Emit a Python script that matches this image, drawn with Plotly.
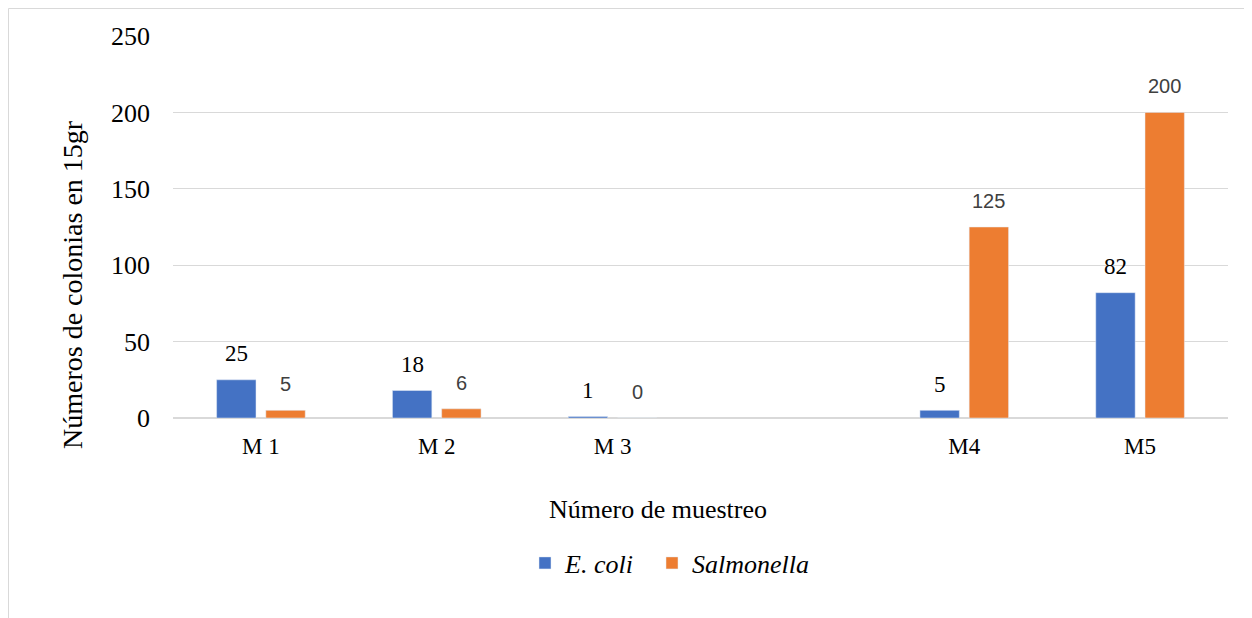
import plotly.graph_objects as go

categories = ["M 1", "M 2", "M 3", " ", "M4", "M5"]
ecoli = [25, 18, 1, None, 5, 82]
salmonella = [5, 6, 0, None, 125, 200]
series_names = ["E. coli", "Salmonella"]
y_ticks = [0, 50, 100, 150, 200, 250]
x_title = "Número de muestreo"
y_title = "Números de colonias en 15gr"

BLUE = "#4472C4"
ORANGE = "#ED7D31"
SERIF = "Liberation Serif"
SANS = "Liberation Sans, Arial, sans-serif"

fig = go.Figure()
fig.add_trace(go.Bar(x=categories, y=ecoli, name="<i>" + series_names[0] + "</i>",
                     marker_color=BLUE, legend="legend"))
fig.add_trace(go.Bar(x=categories, y=salmonella, name="<i>" + series_names[1] + "</i>",
                     marker_color=ORANGE, legend="legend2"))

# figure is offset by the 8px page margin
W = 1244; H = 610; L = 165; R = 24; T = 28; B = 200
pw = W - L - R
ph = H - T - B
slot = pw / len(categories)
shift = slot * (1 - 0.44) / 4
for vals, dx, font in [(ecoli, -shift, dict(family=SERIF, size=23, color="#000000")),
                       (salmonella, shift, dict(family=SANS, size=20, color="#404040"))]:
    for c, v in zip(categories, vals):
        if v is None:
            continue
        fig.add_annotation(x=c, y=v, text=str(v), showarrow=False, xshift=dx,
                           yshift=26, yanchor="middle", font=font)

# axis titles (positioned like the original, not centred on the plot)
fig.add_annotation(text=x_title, xref="paper", yref="paper",
                   x=(650 - L) / pw, y=-(501 - 410) / ph, xanchor="center", yanchor="middle",
                   showarrow=False, font=dict(family=SERIF, size=26, color="#000000"))
fig.add_annotation(text=y_title, xref="paper", yref="paper", textangle=-90,
                   x=(64 - L) / pw, y=(410 - 277) / ph, xanchor="center", yanchor="middle",
                   showarrow=False, font=dict(family=SERIF, size=28, color="#000000"))

legend_style = dict(orientation="h", xanchor="left", y=-(555 - 410) / ph, yanchor="middle",
                    font=dict(family=SERIF, size=26, color="#000000"), itemwidth=30,
                    bgcolor="rgba(0,0,0,0)")

fig.update_layout(
    width=W, height=H,
    margin=dict(l=L, r=R, t=T, b=B),
    plot_bgcolor="white", paper_bgcolor="white",
    barmode="group", bargap=0.44, bargroupgap=0.2,
    font=dict(family=SERIF, size=22, color="#000000"),
    xaxis=dict(type="category", categoryorder="array", categoryarray=categories,
               showgrid=False, showline=True, linecolor="#d9d9d9", linewidth=1,
               tickfont=dict(family=SERIF, size=23), ticklabelstandoff=7),
    yaxis=dict(range=[0, 250], tickvals=y_ticks, showgrid=True, gridcolor="#d9d9d9",
               zeroline=True, zerolinecolor="#d9d9d9", showline=False,
               tickfont=dict(family=SERIF, size=26), ticklabelstandoff=22),
    legend=dict(legend_style, x=(517 - L) / pw),
    legend2=dict(legend_style, x=(644 - L) / pw),
    showlegend=True,
)

fig.add_shape(type="rect", xref="paper", yref="paper",
              x0=(0.5 - L) / pw, x1=(W + 10 - L) / pw,
              y0=-(B + 10) / ph, y1=(ph + T - 0.5) / ph,
              line=dict(color="#d9d9d9", width=1), fillcolor="rgba(0,0,0,0)", layer="below")

fig.write_html("out.html")
